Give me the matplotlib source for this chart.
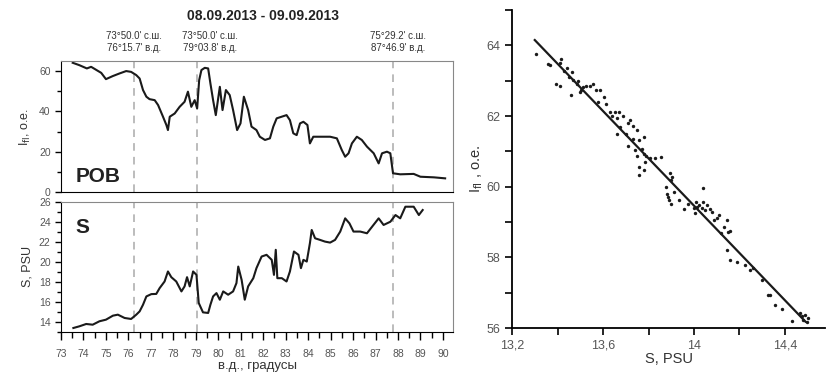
import matplotlib.pyplot as plt
from matplotlib.ticker import MultipleLocator, FixedLocator

plt.rcParams['font.family'] = ['Liberation Sans', 'DejaVu Sans']

# POB fluorescence along the track (longitude, o.e.)
pob_lon = [73.52, 73.82, 74.15, 74.34, 74.64, 74.79, 75.0, 75.3, 75.6, 75.9,
           76.12, 76.35, 76.5, 76.65, 76.8, 76.94, 77.17, 77.32, 77.54, 77.69,
           77.76, 77.84, 78.06, 78.28, 78.5, 78.65, 78.8, 78.95, 79.06, 79.15,
           79.25, 79.4, 79.55, 79.65, 79.77, 79.89, 80.07, 80.19, 80.34, 80.51,
           80.66, 80.84, 80.99, 81.14, 81.33, 81.48, 81.7, 81.85, 82.08, 82.3,
           82.45, 82.6, 82.82, 83.04, 83.19, 83.34, 83.49, 83.64, 83.79, 83.97,
           84.08, 84.23, 84.53, 84.98, 85.28, 85.5, 85.65, 85.8, 85.95, 86.17,
           86.39, 86.62, 86.92, 87.14, 87.29, 87.51, 87.66, 87.78, 88.1, 88.7,
           89.0, 89.6, 90.1]
pob_val = [64.1, 62.9, 61.3, 62.1, 60.1, 59.1, 56.0, 57.5, 58.8, 60.0,
           59.6, 58.0, 56.3, 50.6, 47.3, 46.1, 45.6, 43.2, 37.4, 33.3,
           30.8, 37.4, 39.0, 42.3, 44.8, 49.8, 42.3, 45.6, 41.5, 55.5,
           60.5, 61.6, 61.3, 53.9, 45.6, 38.2, 52.2, 40.7, 50.6, 48.1,
           40.7, 30.8, 34.1, 47.3, 40.7, 32.5, 30.8, 27.5, 25.9, 26.7,
           32.5, 36.6, 37.4, 38.2, 35.7, 29.2, 28.3, 34.1, 34.9, 33.3,
           24.2, 27.5, 27.5, 27.5, 26.7, 20.9, 17.6, 19.3, 24.2, 27.5,
           25.9, 22.6, 19.3, 14.3, 19.3, 20.1, 19.3, 9.4, 8.9, 9.1,
           7.7, 7.4, 6.9]

# salinity along the track (longitude, PSU)
s_lon = [73.55, 73.82, 74.12, 74.41, 74.71, 75.0, 75.31, 75.53, 75.83, 76.12,
         76.35, 76.5, 76.65, 76.8, 77.02, 77.24, 77.39, 77.61, 77.76, 77.91,
         78.13, 78.36, 78.5, 78.61, 78.73, 78.88, 79.03, 79.13, 79.32, 79.55,
         79.65, 79.77, 79.92, 80.07, 80.22, 80.44, 80.66, 80.81, 80.89, 81.04,
         81.18, 81.33, 81.56, 81.7, 81.93, 82.15, 82.38, 82.48, 82.56, 82.63,
         82.83, 83.04, 83.19, 83.37, 83.57, 83.68, 83.79, 83.94, 84.08, 84.16,
         84.31, 84.53, 84.75, 84.98, 85.2, 85.43, 85.65, 85.84, 86.02, 86.32,
         86.62, 86.85, 87.14, 87.36, 87.66, 87.89, 88.1, 88.33, 88.7, 88.93,
         89.1]
s_val = [13.4, 13.57, 13.8, 13.73, 14.07, 14.23, 14.63, 14.73, 14.4, 14.3,
         14.73, 15.06, 15.72, 16.55, 16.78, 16.8, 17.38, 18.04, 19.04, 18.47,
         18.04, 17.05, 17.55, 18.47, 17.55, 19.04, 18.7, 15.9, 14.96, 14.9,
         15.72, 16.55, 16.88, 16.22, 17.05, 16.72, 17.05, 17.88, 19.53, 18.2,
         16.22, 17.55, 18.37, 19.37, 20.53, 20.7, 20.2, 18.7, 21.2, 18.37,
         18.37, 18.04, 19.04, 21.03, 20.7, 19.37, 20.2, 20.03, 21.86, 23.18,
         22.35, 22.19, 22.02, 21.92, 22.19, 23.02, 24.34, 23.84, 23.02, 23.02,
         22.85, 23.51, 24.34, 23.68, 24.0, 24.67, 24.34, 25.5, 25.5, 24.67,
         25.17]

# station positions (dashed lines) and their coordinate captions
station_lon = [76.26, 79.06, 87.78]
station_text = ["73°50.0' с.ш.\n76°15.7' в.д.",
                "73°50.0' с.ш.\n79°03.8' в.д.",
                "75°29.2' с.ш.\n87°46.9' в.д."]

# scatter: salinity vs fluorescence
sc_s = [13.307, 13.357, 13.366, 13.395, 13.41, 13.409, 13.415, 13.427, 13.44, 13.449,
        13.46, 13.463, 13.47, 13.485, 13.49, 13.497, 13.504, 13.51, 13.526, 13.544,
        13.558, 13.57, 13.58, 13.588, 13.605, 13.614, 13.63, 13.64, 13.654, 13.66,
        13.67, 13.66, 13.675, 13.69, 13.7, 13.71, 13.72, 13.71, 13.73, 13.73,
        13.74, 13.75, 13.75, 13.756, 13.76, 13.76, 13.77, 13.78, 13.78, 13.78,
        13.785, 13.79, 13.807, 13.83, 13.856, 13.878, 13.88, 13.887, 13.89, 13.895,
        13.898, 13.9, 13.905, 13.91, 13.936, 13.954, 13.975, 13.998, 14.005, 14.01,
        14.015, 14.024, 14.034, 14.039, 14.04, 14.05, 14.056, 14.07, 14.078, 14.088,
        14.1, 14.112, 14.118, 14.132, 14.144, 14.15, 14.16, 14.144, 14.159, 14.19,
        14.224, 14.246, 14.26, 14.297, 14.327, 14.336, 14.356, 14.385, 14.43, 14.466,
        14.473, 14.48, 14.487, 14.495, 14.5]
sc_i = [63.76, 63.48, 63.44, 62.9, 62.86, 63.5, 63.6, 63.26, 63.37, 63.1,
        62.6, 63.24, 63.02, 62.9, 62.98, 62.68, 62.75, 62.83, 62.86, 62.86,
        62.9, 62.73, 62.4, 62.75, 62.54, 62.35, 62.12, 61.99, 62.12, 61.93,
        62.1, 61.5, 61.69, 62.0, 61.5, 61.79, 61.88, 61.15, 61.72, 61.34,
        61.03, 61.6, 60.87, 61.32, 60.56, 60.33, 61.08, 60.93, 61.41, 60.47,
        60.7, 60.87, 60.8, 60.82, 60.85, 59.98, 59.8, 59.71, 59.62, 60.38,
        60.19, 59.52, 60.28, 59.85, 59.62, 59.36, 59.5, 59.39, 59.25, 59.58,
        59.43, 59.48, 59.39, 59.95, 59.58, 59.34, 59.48, 59.36, 59.29, 59.06,
        59.1, 59.2, 58.68, 58.87, 59.06, 58.73, 58.75, 58.21, 57.93, 57.88,
        57.79, 57.65, 57.69, 57.36, 56.94, 56.94, 56.66, 56.54, 56.2, 56.42,
        56.33, 56.24, 56.38, 56.16, 56.28]

# regression line end points
fit_s = [13.30, 14.49]
fit_i = [64.15, 56.18]

TICK_GRAY = '#555555'
FRAME_GRAY = '#888888'


def style_left_axis(ax):
    for side in ['top', 'right']:
        ax.spines[side].set_color(FRAME_GRAY)
    for side in ['left', 'bottom']:
        ax.spines[side].set_color('black')
    ax.tick_params(axis='both', which='both', direction='out', colors='black',
                   labelcolor=TICK_GRAY, labelsize=7.5)
    ax.tick_params(which='major', length=4, width=1)
    ax.tick_params(which='minor', length=3, width=1)


fig = plt.figure(figsize=(8.28, 3.81), dpi=100)

ax1 = fig.add_axes([0.0737, 0.4953, 0.4734, 0.3447])
ax2 = fig.add_axes([0.0737, 0.1286, 0.4734, 0.3420])
ax3 = fig.add_axes([0.6184, 0.1391, 0.3780, 0.8346])

# top panel: POB
ax1.plot(pob_lon, pob_val, color='#1a1a1a', lw=1.5)
ax1.set_xlim(73, 90.45)
ax1.set_ylim(0, 65)
ax1.yaxis.set_major_locator(MultipleLocator(20))
ax1.yaxis.set_minor_locator(MultipleLocator(10))
ax1.set_xticks([])
style_left_axis(ax1)
ax1.set_ylabel('I$_{\\rm fl}$, о.е.', fontsize=9, color='#333333', labelpad=4)
ax1.text(0.036, 0.08, 'РОВ', transform=ax1.transAxes, fontsize=15,
         fontweight='bold', color='#222222')

# bottom panel: salinity
ax2.plot(s_lon, s_val, color='#1a1a1a', lw=1.5)
ax2.set_xlim(73, 90.45)
ax2.set_ylim(13, 26)
ax2.xaxis.set_major_locator(MultipleLocator(1))
ax2.xaxis.set_minor_locator(MultipleLocator(0.5))
ax2.yaxis.set_major_locator(MultipleLocator(2))
ax2.yaxis.set_minor_locator(MultipleLocator(1))
style_left_axis(ax2)
ax2.tick_params(axis='x', which='major', length=6, pad=6)
ax2.tick_params(axis='x', which='minor', length=4)
ax2.set_ylabel('S, PSU', fontsize=9, color='#333333', labelpad=4)
ax2.set_xlabel('в.д., градусы', fontsize=9.5, color='#333333', labelpad=1)
ax2.text(0.036, 0.76, 'S', transform=ax2.transAxes, fontsize=15,
         fontweight='bold', color='#222222')

for lon in station_lon:
    for ax in (ax1, ax2):
        ax.axvline(lon, color='#aaaaaa', lw=1.1, ls=(0, (5, 4)), zorder=0)

# station captions above the top panel
caption_x = [134, 210, 398]
for px, txt in zip(caption_x, station_text):
    fig.text(px / 828, 1 - 42 / 381, txt, ha='center', va='center',
             fontsize=7, color='#333333', linespacing=1.15)

fig.text(263 / 828, 1 - 16 / 381, '08.09.2013 - 09.09.2013', ha='center',
         va='center', fontsize=10, fontweight='bold', color='#222222')

# right panel: scatter with fit
ax3.scatter(sc_s, sc_i, s=6, color='#1a1a1a', linewidths=0)
ax3.plot(fit_s, fit_i, color='#1a1a1a', lw=1.6)
ax3.set_xlim(13.2, 14.576)
ax3.set_ylim(56, 65)
ax3.xaxis.set_major_locator(FixedLocator([13.2, 13.6, 14.0, 14.4]))
ax3.xaxis.set_minor_locator(FixedLocator([13.4, 13.8, 14.2]))
ax3.set_xticklabels(['13,2', '13,6', '14', '14,4'])
ax3.yaxis.set_major_locator(MultipleLocator(2))
ax3.yaxis.set_minor_locator(MultipleLocator(1))
ax3.spines['top'].set_visible(False)
ax3.spines['right'].set_visible(False)
ax3.spines['left'].set_linewidth(1.3)
ax3.spines['bottom'].set_linewidth(1.3)
ax3.tick_params(axis='both', which='both', direction='out',
                labelcolor=TICK_GRAY, labelsize=9, width=1.2)
ax3.tick_params(which='major', length=5)
ax3.tick_params(which='minor', length=5)
ax3.set_xlabel('S, PSU', fontsize=10.5, color='#333333', labelpad=0)
ax3.set_ylabel('I$_{\\rm fl}$ , о.е.', fontsize=10.5, color='#333333', labelpad=1)

fig.savefig('out.png', dpi=100)
